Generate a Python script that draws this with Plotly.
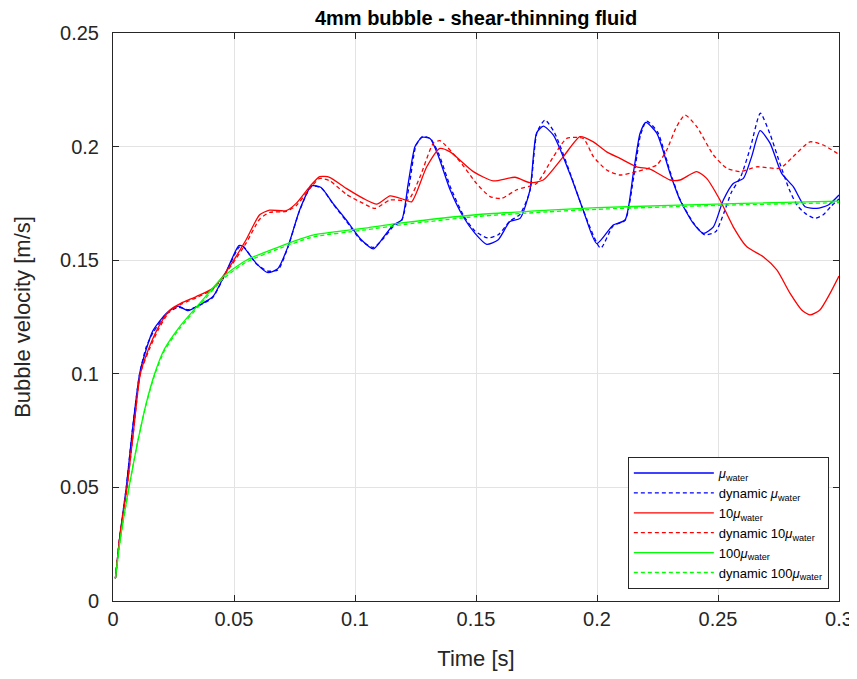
import plotly.graph_objects as go

# ---------------- data ----------------
t_water = [0.001, 0.003, 0.0055, 0.008, 0.011, 0.0138, 0.0165, 0.022, 0.0269, 0.031,
           0.0365, 0.0413, 0.0468, 0.052, 0.0537, 0.0592, 0.064, 0.0682, 0.0723, 0.0771,
           0.082, 0.086, 0.0909, 0.0964, 0.1026, 0.1076, 0.1117, 0.1158, 0.1193, 0.122,
           0.1248, 0.1276, 0.131, 0.1344, 0.1393, 0.1448, 0.1496, 0.1544, 0.1592, 0.164,
           0.1682, 0.1723, 0.175, 0.1778, 0.182, 0.1888, 0.1943, 0.1999, 0.2067, 0.2116,
           0.215, 0.2178, 0.2202, 0.2247, 0.2302, 0.2343, 0.2398, 0.244, 0.2481, 0.2522,
           0.2563, 0.2605, 0.2639, 0.2674, 0.2715, 0.2763, 0.2811, 0.286, 0.2908, 0.2956,
           0.300]
v_water = [0.010, 0.030, 0.050, 0.075, 0.100, 0.111, 0.119, 0.1266, 0.1298, 0.1278,
           0.1307, 0.134, 0.145, 0.1564, 0.156, 0.1486, 0.1445, 0.1464, 0.156, 0.172,
           0.1827, 0.182, 0.175, 0.1677, 0.159, 0.155, 0.160, 0.1655, 0.1677, 0.1838,
           0.200, 0.204, 0.2036, 0.196, 0.181, 0.169, 0.1618, 0.157, 0.159, 0.167,
           0.1684, 0.181, 0.2059, 0.209, 0.205, 0.188, 0.172, 0.1573, 0.1655, 0.1677,
           0.1882, 0.2059, 0.2107, 0.2059, 0.1882, 0.1765, 0.1662, 0.1618, 0.1647, 0.1765,
           0.1838, 0.186, 0.1956, 0.207, 0.2015, 0.1882, 0.1824, 0.1735, 0.1728, 0.1743,
           0.1787]

t_water_dyn = [0.001, 0.003, 0.0055, 0.008, 0.011, 0.0138, 0.0165, 0.022, 0.0269, 0.031,
               0.0365, 0.0413, 0.0468, 0.052, 0.0537, 0.0592, 0.064, 0.0682, 0.0723, 0.0771,
               0.082, 0.086, 0.0909, 0.0964, 0.1026, 0.1076, 0.1117, 0.1158, 0.1193, 0.1225,
               0.1252, 0.128, 0.1312, 0.1346, 0.1395, 0.1448, 0.1496, 0.1548, 0.1592, 0.164,
               0.1682, 0.1723, 0.1752, 0.1785, 0.1825, 0.189, 0.1945, 0.2015, 0.2067, 0.2116,
               0.2152, 0.218, 0.2205, 0.225, 0.2302, 0.2343, 0.2398, 0.2445, 0.249, 0.2525,
               0.2555, 0.2595, 0.2635, 0.2675, 0.2715, 0.2756, 0.2795, 0.2828, 0.2862, 0.29,
               0.2935, 0.2965, 0.300]
v_water_dyn = [0.010, 0.030, 0.050, 0.075, 0.100, 0.112, 0.118, 0.1262, 0.1293, 0.1282,
               0.1305, 0.1337, 0.1448, 0.1556, 0.1562, 0.1484, 0.1452, 0.1458, 0.1557, 0.1718,
               0.1825, 0.1818, 0.1748, 0.1672, 0.1586, 0.1556, 0.1595, 0.1648, 0.1675, 0.1835,
               0.2005, 0.2045, 0.2035, 0.1968, 0.182, 0.1698, 0.1628, 0.1598, 0.1612, 0.1672,
               0.1702, 0.1805, 0.2062, 0.2117, 0.206, 0.188, 0.1715, 0.1553, 0.1652, 0.1675,
               0.1868, 0.2052, 0.2112, 0.2065, 0.189, 0.1768, 0.1665, 0.1612, 0.1625, 0.1710,
               0.1798, 0.1870, 0.2000, 0.2147, 0.2055, 0.1925, 0.1810, 0.1740, 0.1705, 0.1684,
               0.1700, 0.1735, 0.1770]

t_10water = [0.001, 0.003, 0.0058, 0.0085, 0.0113, 0.0151, 0.019, 0.0234, 0.028, 0.0344,
             0.0413, 0.0468, 0.055, 0.0606, 0.0647, 0.0716, 0.0757, 0.0813, 0.0854, 0.0895,
             0.0964, 0.1034, 0.109, 0.1145, 0.12, 0.1234, 0.1296, 0.1351, 0.1393, 0.1489,
             0.1571, 0.1661, 0.1723, 0.1778, 0.1861, 0.193, 0.1985, 0.204, 0.2095, 0.2164,
             0.2219, 0.2302, 0.2343, 0.2412, 0.2453, 0.2508, 0.2563, 0.2618, 0.2687, 0.2743,
             0.2798, 0.2846, 0.288, 0.2921, 0.2963, 0.300]
v_10water = [0.010, 0.030, 0.050, 0.075, 0.100, 0.112, 0.121, 0.128, 0.131, 0.134,
             0.1376, 0.145, 0.159, 0.170, 0.172, 0.1718, 0.175, 0.1824, 0.1868, 0.1865,
             0.1816, 0.1772, 0.1747, 0.1783, 0.1768, 0.1757, 0.191, 0.1992, 0.1977, 0.189,
             0.1849, 0.1865, 0.1841, 0.1853, 0.1956, 0.2044, 0.2021, 0.1977, 0.1948, 0.1911,
             0.1901, 0.1853, 0.1853, 0.189, 0.186, 0.1765, 0.1647, 0.156, 0.1515, 0.1457,
             0.1354, 0.1281, 0.1259, 0.1281, 0.1354, 0.143]

t_10water_dyn = [0.001, 0.003, 0.0058, 0.0085, 0.0113, 0.0151, 0.019, 0.0234, 0.028, 0.0344,
                 0.0413, 0.0468, 0.055, 0.0606, 0.0647, 0.0716, 0.0757, 0.0813, 0.0854, 0.0895,
                 0.0964, 0.1034, 0.1083, 0.1145, 0.122, 0.1269, 0.1324, 0.1351, 0.1434, 0.1502,
                 0.1558, 0.1606, 0.1668, 0.175, 0.182, 0.1875, 0.1943, 0.1985, 0.204, 0.2095,
                 0.2164, 0.2247, 0.2288, 0.2329, 0.2364, 0.2412, 0.2481, 0.2536, 0.2591, 0.266,
                 0.2756, 0.2811, 0.288, 0.2935, 0.300]
v_10water_dyn = [0.010, 0.030, 0.050, 0.075, 0.100, 0.111, 0.120, 0.1275, 0.1305, 0.1335,
                 0.1372, 0.1445, 0.1575, 0.1680, 0.1710, 0.1715, 0.1740, 0.1815, 0.1860, 0.1850,
                 0.1790, 0.1750, 0.1728, 0.1765, 0.1765, 0.1868, 0.2015, 0.2026, 0.1934, 0.1838,
                 0.1780, 0.1772, 0.1810, 0.1838, 0.1956, 0.2036, 0.2036, 0.1956, 0.1897, 0.1875,
                 0.1890, 0.1919, 0.1985, 0.2088, 0.2139, 0.2088, 0.1963, 0.1905, 0.1890, 0.1911,
                 0.1905, 0.1956, 0.2021, 0.2007, 0.1965]

t_100water = [0.001, 0.003, 0.0066, 0.010, 0.0135, 0.0172, 0.0213, 0.0275, 0.0358, 0.0455,
              0.0551, 0.0689, 0.0826, 0.1033, 0.12, 0.15, 0.18, 0.20, 0.23, 0.26, 0.30]
v_100water = [0.010, 0.027, 0.050, 0.069, 0.086, 0.100, 0.111, 0.1207, 0.131, 0.1427,
              0.150, 0.156, 0.161, 0.164, 0.1665, 0.1700, 0.1720, 0.1731, 0.1741, 0.1750, 0.1760]

t_100water_dyn = [0.001, 0.003, 0.0066, 0.010, 0.0135, 0.0172, 0.0213, 0.0275, 0.0358, 0.0455,
                  0.0551, 0.0689, 0.0826, 0.1033, 0.12, 0.15, 0.18, 0.20, 0.23, 0.26, 0.30]
v_100water_dyn = [0.010, 0.027, 0.050, 0.069, 0.0858, 0.0995, 0.1103, 0.1199, 0.1302, 0.1418,
                  0.1492, 0.1552, 0.1602, 0.1632, 0.1657, 0.1692, 0.1713, 0.1724, 0.1735, 0.1744, 0.1753]

x_ticks = [0, 0.05, 0.1, 0.15, 0.2, 0.25, 0.3]
x_tick_labels = ["0", "0.05", "0.1", "0.15", "0.2", "0.25", "0.3"]
y_ticks = [0, 0.05, 0.1, 0.15, 0.2, 0.25]
y_tick_labels = ["0", "0.05", "0.1", "0.15", "0.2", "0.25"]

MU = "<i>\u03bc</i>"
series = [
    (t_water, v_water, MU + "<sub>water</sub>", "#0000ff", "solid"),
    (t_water_dyn, v_water_dyn, "dynamic " + MU + "<sub>water</sub>", "#0000ff", "4px,3px"),
    (t_10water, v_10water, "10" + MU + "<sub>water</sub>", "#ff0000", "solid"),
    (t_10water_dyn, v_10water_dyn, "dynamic 10" + MU + "<sub>water</sub>", "#ff0000", "4px,3px"),
    (t_100water, v_100water, "100" + MU + "<sub>water</sub>", "#00ff00", "solid"),
    (t_100water_dyn, v_100water_dyn, "dynamic 100" + MU + "<sub>water</sub>", "#00ff00", "4px,3px"),
]

fig = go.Figure()
for t, v, name, color, dash in series:
    fig.add_trace(go.Scatter(
        x=t, y=v, mode="lines", name=name,
        line=dict(color=color, width=1.3, dash=dash, shape="spline", smoothing=0.6),
    ))

FONT = "Liberation Sans, Arial, sans-serif"
axis_common = dict(
    showline=True, linecolor="#262626", linewidth=1, mirror="ticks",
    ticks="inside", ticklen=6, tickcolor="#262626", tickwidth=1,
    showgrid=True, gridcolor="#e3e3e3", gridwidth=1, zeroline=False,
    automargin=False, ticklabeloverflow="allow",
    tickfont=dict(family=FONT, size=20, color="#262626"),
)

# the page body adds an 8px margin, so the figure is sized to fit the window without scrollbars
W, H = 849, 663
fig.update_layout(
    width=W, height=H,
    margin=dict(l=105, r=18, t=25, b=70, autoexpand=False),
    paper_bgcolor="white", plot_bgcolor="white",
    font=dict(family=FONT, color="#262626"),
    title=dict(text="<b>4mm bubble - shear-thinning fluid</b>", x=(105 + 831) / 2 / W,
               xref="container", xanchor="center", yref="container", y=1 - 10 / H, yanchor="middle",
               font=dict(family=FONT, size=20, color="black")),
    xaxis=dict(range=[0, 0.3], tickvals=x_ticks, ticktext=x_tick_labels,
               title=dict(text="Time [s]", font=dict(family=FONT, size=22, color="#262626"), standoff=23),
               **axis_common),
    yaxis=dict(range=[0, 0.25], tickvals=y_ticks, ticktext=y_tick_labels, ticklabelstandoff=9,
               title=dict(text="Bubble velocity [m/s]", font=dict(family=FONT, size=22, color="#262626"), standoff=23),
               **axis_common),
    legend=dict(x=0.986, xanchor="right", y=0.021, yanchor="bottom",
                bgcolor="white", bordercolor="#262626", borderwidth=1,
                font=dict(family=FONT, size=13, color="black"),
                itemwidth=80, tracegroupgap=0),
    showlegend=True,
)

fig.write_html("out.html")
